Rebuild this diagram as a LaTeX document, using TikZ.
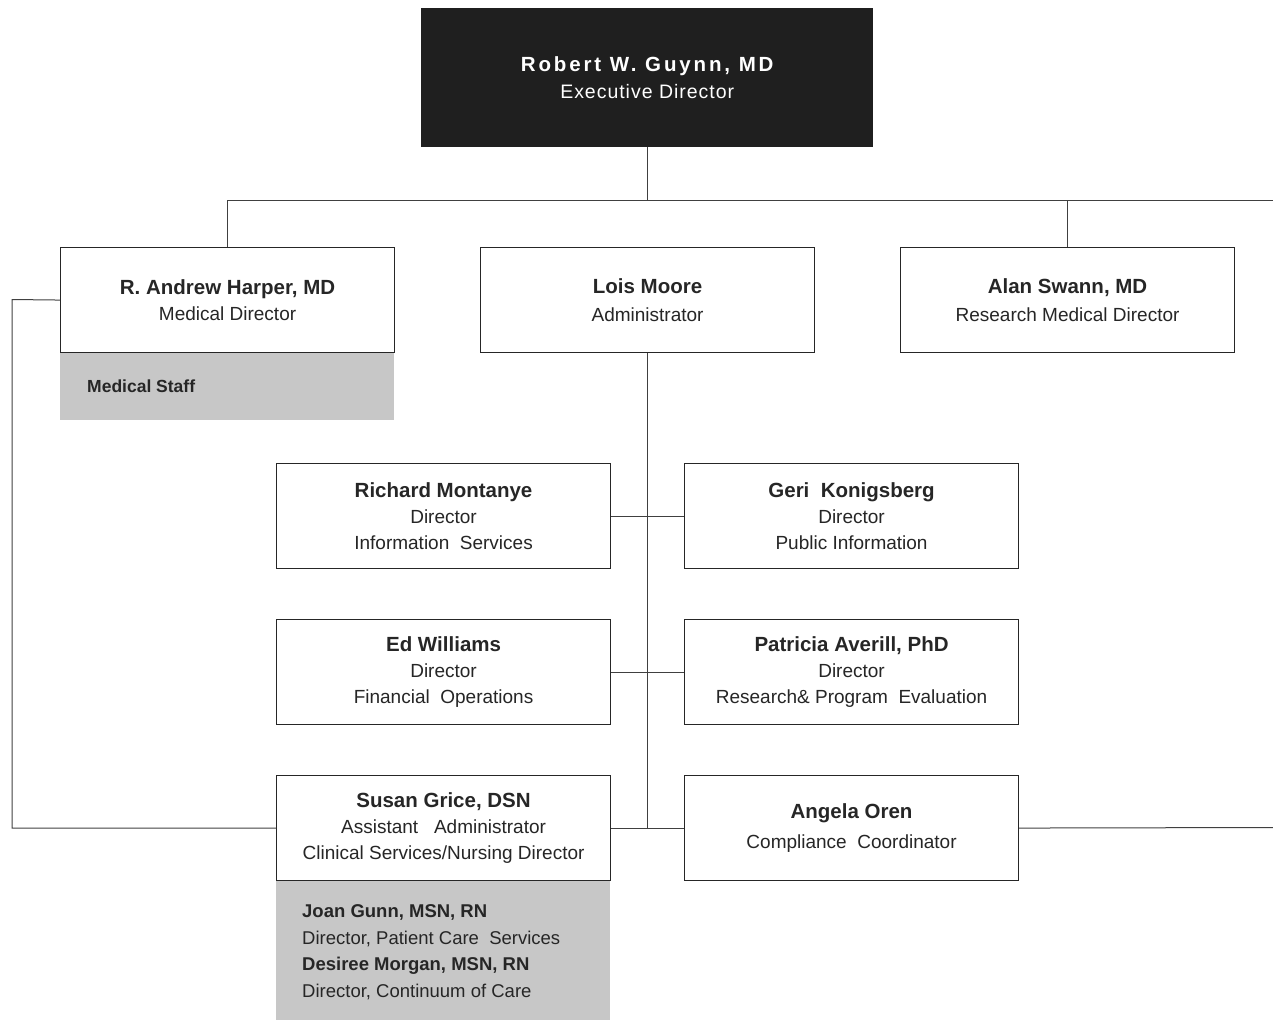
\documentclass[tikz,border=0pt]{standalone}
\usepackage{fontspec}
\setmainfont{Liberation Sans}
\begin{document}
\begin{tikzpicture}[x=1pt,y=-1pt,
  box/.style={draw=black!85,line width=1.1pt,fill=white,minimum width=334pt,minimum height=105pt,
    inner sep=0pt,align=center,font=\fontsize{19}{26}\selectfont,text=black!85},
  shade/.style={fill=black!22,draw=none,inner sep=0pt,minimum width=334pt,anchor=north west},
  link/.style={draw=black!75,line width=1pt}]
\useasboundingbox (0,0) rectangle (1273,1021);
% top
\node[fill=black!88,minimum width=452pt,minimum height=139pt,anchor=north west,inner sep=0pt,
  align=center,text=white,font=\fontsize{19.5}{27}\selectfont] (top) at (421,8)
  {{\bfseries\addfontfeature{LetterSpace=14}\fontsize{20.5}{27}\selectfont Robert W. Guynn, MD}\\\addfontfeature{LetterSpace=5}Executive Director};
% level 2
\node[shade,minimum height=68pt] (medstaff) at (60,352) {};
\node[anchor=west,inner sep=0pt,font=\bfseries\fontsize{17.5}{20}\selectfont,text=black!85] (medstafftxt) at (87,386.5) {Medical Staff};
\node[box,anchor=north west] (harper) at (60,247)
  {{\bfseries\fontsize{20.5}{25}\selectfont R.\ Andrew Harper, MD}\\Medical Director};
\node[box,anchor=north west,font=\fontsize{19}{28}\selectfont] (lois) at (480,247)
  {{\bfseries\fontsize{20.5}{28}\selectfont Lois Moore}\\Administrator};
\node[box,anchor=north west,font=\fontsize{19}{28}\selectfont] (swann) at (900,247)
  {{\bfseries\fontsize{20.5}{28}\selectfont Alan Swann, MD}\\Research Medical Director};
% level 3
\node[box,anchor=north west] (montanye) at (276,463)
  {{\bfseries\fontsize{20.5}{26}\selectfont Richard Montanye}\\Director\\Information\ \ Services};
\node[box,anchor=north west] (konig) at (684,463)
  {{\bfseries\fontsize{20.5}{26}\selectfont Geri\ \ Konigsberg}\\Director\\Public Information};
\node[box,anchor=north west] (williams) at (276,619)
  {{\bfseries\fontsize{20.5}{26}\selectfont Ed Williams}\\Director\\Financial\ \ Operations};
\node[box,anchor=north west] (averill) at (684,619)
  {{\bfseries\fontsize{20.5}{26}\selectfont Patricia Averill, PhD}\\Director\\Research\&\ Program\ \ Evaluation};
\node[shade,minimum height=140pt] (nursing) at (276,880) {};
\node[anchor=west,inner sep=0pt,align=left,font=\fontsize{18.5}{26.5}\selectfont,text=black!85] (nursingtxt) at (302,952)
  {{\bfseries Joan Gunn, MSN, RN}\\Director, Patient Care\ \ Services\\{\bfseries Desiree Morgan, MSN, RN}\\Director, Continuum of Care};
\node[box,anchor=north west] (grice) at (276,775)
  {{\bfseries\fontsize{20.5}{26}\selectfont Susan Grice, DSN}\\Assistant\ \ \ Administrator\\Clinical Services/Nursing Director};
\node[box,anchor=north west,font=\fontsize{19}{30}\selectfont] (oren) at (684,775)
  {{\bfseries\fontsize{20.5}{30}\selectfont Angela Oren}\\Compliance\ \ Coordinator};
% connectors
\coordinate (busend) at (1273,200);
\coordinate (leftrail) at (12,299.5);
\coordinate (rightend) at (1273,827.5);
\draw[link] (top.south) -- (top.south |- busend);
\draw[link] (harper.north) |- (busend);
\draw[link] (swann.north) -- (swann.north |- busend);
\draw[link] (harper.west) -- (leftrail) |- (grice.west);
\draw[link] (lois.south) -- (lois.south |- grice.east);
\draw[link] (montanye.east) -- (konig.west);
\draw[link] (williams.east) -- (averill.west);
\draw[link] (grice.east) -- (oren.west);
\draw[link] (oren.east) -- (rightend);
\end{tikzpicture}
\end{document}
